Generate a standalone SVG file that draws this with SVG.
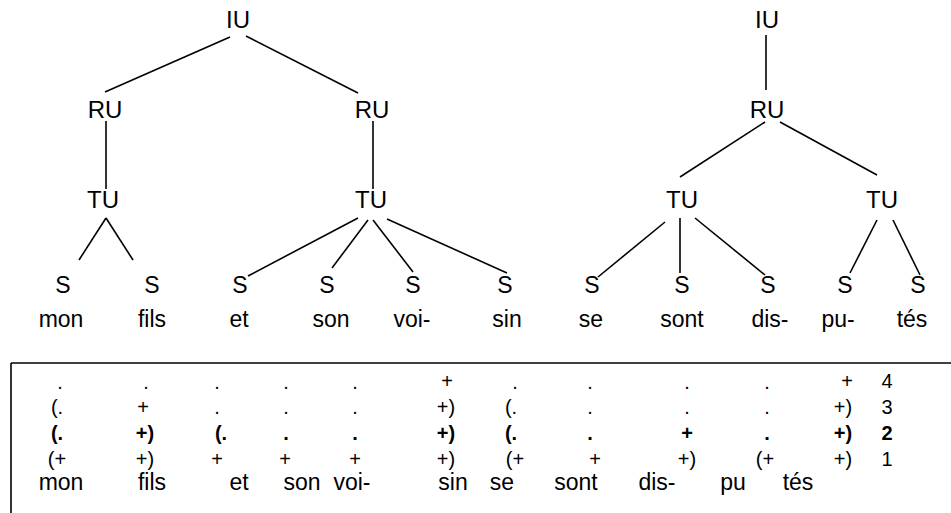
<svg xmlns="http://www.w3.org/2000/svg" width="951" height="513" viewBox="0 0 951 513">
<style>
text{font-family:"Liberation Sans",Arial,sans-serif;fill:#000;text-anchor:middle}
.n{font-size:24px}
.s{font-size:23px}
.w{font-size:23px}
.t{font-size:20px}
.b{font-weight:bold}
line{stroke:#000;stroke-width:1.6;fill:none}
</style>
<rect width="951" height="513" fill="#fff"/>
<g id="connectors">
<line x1="230" y1="37" x2="105" y2="92"/>
<line x1="246" y1="36" x2="358" y2="93"/>
<line x1="106" y1="121" x2="106" y2="189"/>
<line x1="373" y1="121" x2="373" y2="189"/>
<line x1="106" y1="218" x2="79" y2="260"/>
<line x1="106" y1="218" x2="133" y2="260"/>
<line x1="358" y1="218" x2="248" y2="276"/>
<line x1="368" y1="220" x2="332" y2="268"/>
<line x1="373" y1="220" x2="413" y2="272"/>
<line x1="387" y1="219" x2="507" y2="273"/>
<line x1="766" y1="35" x2="766" y2="90"/>
<line x1="765" y1="122" x2="680" y2="177"/>
<line x1="780" y1="122" x2="877" y2="175"/>
<line x1="665" y1="222" x2="598" y2="277"/>
<line x1="680" y1="218" x2="680" y2="273"/>
<line x1="695" y1="218" x2="765" y2="275"/>
<line x1="877" y1="220" x2="850" y2="273"/>
<line x1="893" y1="220" x2="920" y2="275"/>
</g>
<g id="iu1"><text class="n" x="238" y="28">IU</text></g>
<g id="ru1"><text class="n" x="105" y="118">RU</text></g>
<g id="ru2"><text class="n" x="372" y="118">RU</text></g>
<g id="tu1"><text class="n" x="103" y="208">TU</text></g>
<g id="tu2"><text class="n" x="371" y="208">TU</text></g>
<g id="iu2"><text class="n" x="767" y="28">IU</text></g>
<g id="ru3"><text class="n" x="767" y="118">RU</text></g>
<g id="tu3"><text class="n" x="682" y="208">TU</text></g>
<g id="tu4"><text class="n" x="882" y="208">TU</text></g>
<g id="s1"><text class="s" x="63" y="293">S</text><text class="w" x="61" y="327">mon</text></g>
<g id="s2"><text class="s" x="152" y="293">S</text><text class="w" x="152" y="327">fils</text></g>
<g id="s3"><text class="s" x="240" y="293">S</text><text class="w" x="239" y="327">et</text></g>
<g id="s4"><text class="s" x="327" y="293">S</text><text class="w" x="331" y="327">son</text></g>
<g id="s5"><text class="s" x="413" y="293">S</text><text class="w" x="412" y="327">voi-</text></g>
<g id="s6"><text class="s" x="505" y="293">S</text><text class="w" x="507" y="327">sin</text></g>
<g id="s7"><text class="s" x="592" y="293">S</text><text class="w" x="591" y="327">se</text></g>
<g id="s8"><text class="s" x="682" y="293">S</text><text class="w" x="682" y="327">sont</text></g>
<g id="s9"><text class="s" x="768" y="293">S</text><text class="w" x="770" y="327">dis-</text></g>
<g id="s10"><text class="s" x="845" y="293">S</text><text class="w" x="838" y="327">pu-</text></g>
<g id="s11"><text class="s" x="918" y="293">S</text><text class="w" x="912" y="327">tés</text></g>
<g id="table">
<line x1="11" y1="363" x2="951" y2="363"/>
<line x1="11" y1="363" x2="11" y2="513"/>
<g class="t">
<text x="60" y="389">.</text><text x="146" y="389">.</text><text x="217" y="389">.</text><text x="286" y="389">.</text><text x="355" y="389">.</text><text x="447" y="388">+</text><text x="515" y="389">.</text><text x="590" y="389">.</text><text x="687" y="389">.</text><text x="767" y="389">.</text><text x="847" y="388">+</text><text x="887" y="388">4</text>
<text x="57" y="414">(.</text><text x="143" y="414">+</text><text x="217" y="414">.</text><text x="286" y="414">.</text><text x="355" y="414">.</text><text x="446" y="414">+)</text><text x="511" y="414">(.</text><text x="590" y="414">.</text><text x="687" y="414">.</text><text x="767" y="414">.</text><text x="843" y="414">+)</text><text x="887" y="414">3</text>
<g class="b"><text x="57" y="440">(.</text><text x="145" y="440">+)</text><text x="221" y="440">(.</text><text x="286" y="440">.</text><text x="355" y="440">.</text><text x="446" y="440">+)</text><text x="511" y="440">(.</text><text x="590" y="440">.</text><text x="687" y="440">+</text><text x="767" y="440">.</text><text x="843" y="440">+)</text><text x="887" y="440">2</text></g>
<text x="57" y="466">(+</text><text x="145" y="466">+)</text><text x="217" y="466">+</text><text x="285" y="466">+</text><text x="355" y="466">+</text><text x="446" y="466">+)</text><text x="515" y="466">(+</text><text x="595" y="466">+</text><text x="687" y="466">+)</text><text x="765" y="466">(+</text><text x="843" y="466">+)</text><text x="887" y="466">1</text>
</g>
<g class="w">
<text x="61" y="490">mon</text><text x="152" y="490">fils</text><text x="239" y="490">et</text><text x="302" y="490">son</text><text x="352" y="490">voi-</text><text x="453" y="490">sin</text><text x="502" y="490">se</text><text x="576" y="490">sont</text><text x="657" y="490">dis-</text><text x="733" y="490">pu</text><text x="798" y="490">tés</text>
</g>
</g>
</svg>
